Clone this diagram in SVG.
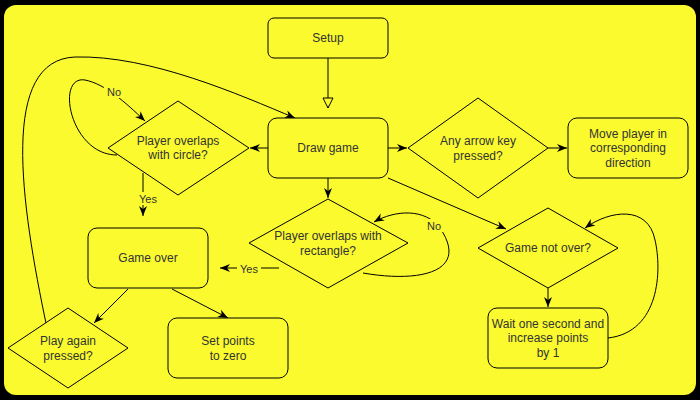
<svg xmlns="http://www.w3.org/2000/svg" width="700" height="400" viewBox="0 0 700 400">
<defs>
<style>
.n{fill:#FAFA2E;stroke:#000;stroke-width:1}
.t{font-family:"Liberation Sans",Arial,sans-serif;font-size:12px;fill:#333;text-anchor:middle}
.c{fill:none;stroke:#000;stroke-width:1}
.lb{font-family:"Liberation Sans",Arial,sans-serif;font-size:11px;fill:#333;text-anchor:middle}
</style>
<marker id="a" viewBox="0 0 10 10" refX="10" refY="5" markerWidth="10" markerHeight="10" markerUnits="userSpaceOnUse" orient="auto">
<path d="M0,1 L10,5 L0,9 L3,5 Z" fill="#000"/>
</marker>
<marker id="h" viewBox="0 0 12 12" refX="11" refY="6" markerWidth="12" markerHeight="12" markerUnits="userSpaceOnUse" orient="auto">
<path d="M1,1 L11,6 L1,11 Z" fill="#FAFA2E" stroke="#000" stroke-width="1"/>
</marker>
</defs>
<rect x="0" y="0" width="700" height="400" fill="#000"/>
<rect x="4" y="5" width="692" height="390" rx="12" fill="#FAFA2E"/>

<g id="connectors">
<path class="c" d="M328 58 V108" marker-end="url(#h)"/>
<path class="c" d="M268 148 H250" marker-end="url(#a)"/>
<path class="c" d="M117 155 C70 155,55 75,85 80 C105 84,125 102,145 121" marker-end="url(#a)"/>
<path class="c" d="M47 328 C20 200,0 60,75 57 C150 55,240 95,295 118" marker-end="url(#a)"/>
<path class="c" d="M143 173 V216" marker-end="url(#a)"/>
<path class="c" d="M328 178 V198" marker-end="url(#a)"/>
<path class="c" d="M279 268 H220" marker-end="url(#a)"/>
<path class="c" d="M363 273 C420 283,470 272,440 228 C425 208,395 210,374 222" marker-end="url(#a)"/>
<path class="c" d="M388 148 H407" marker-end="url(#a)"/>
<path class="c" d="M548 148 H567" marker-end="url(#a)"/>
<path class="c" d="M388 178 L506 229" marker-end="url(#a)"/>
<path class="c" d="M548 288 V307" marker-end="url(#a)"/>
<path class="c" d="M608 338 C660 332,662 270,655 240 C648 205,610 210,585 228" marker-end="url(#a)"/>
<path class="c" d="M128 289 L94 323" marker-end="url(#a)"/>
<path class="c" d="M172 289 L228 318" marker-end="url(#a)"/>
<rect x="104" y="85" width="18" height="13" fill="#FAFA2E"/>
<text class="lb" x="114" y="96">No</text>
<rect x="136" y="192" width="24" height="13" fill="#FAFA2E"/>
<text class="lb" x="148" y="203">Yes</text>
<rect x="237" y="262" width="24" height="13" fill="#FAFA2E"/>
<text class="lb" x="249" y="273">Yes</text>
<rect x="425" y="219" width="18" height="13" fill="#FAFA2E"/>
<text class="lb" x="434" y="230">No</text>
</g>

<g id="setup"><rect class="n" x="268" y="18" width="120" height="40" rx="6"/><text class="t" x="328" y="42">Setup</text></g>
<g id="draw-game"><rect class="n" x="268" y="118" width="120" height="60" rx="9"/><text class="t" x="328" y="152">Draw game</text></g>
<g id="circle-check"><polygon class="n" points="108,148 178,101 249,148 178,195"/><text class="t" x="178" y="145">Player overlaps</text><text class="t" x="178" y="159">with circle?</text></g>
<g id="game-over"><rect class="n" x="88" y="228" width="120" height="60" rx="9"/><text class="t" x="148" y="262">Game over</text></g>
<g id="rect-check"><polygon class="n" points="249,243 328,199 408,243 328,288"/><text class="t" x="328" y="240">Player overlaps with</text><text class="t" x="328" y="255">rectangle?</text></g>
<g id="arrow-key"><polygon class="n" points="408,148 478,98 548,148 478,198"/><text class="t" x="478" y="145">Any arrow key</text><text class="t" x="478" y="160">pressed?</text></g>
<g id="move-player"><rect class="n" x="568" y="118" width="120" height="60" rx="9"/><text class="t" x="628" y="138">Move player in</text><text class="t" x="628" y="152">corresponding</text><text class="t" x="628" y="167">direction</text></g>
<g id="game-not-over"><polygon class="n" points="478,248 548,208 618,248 548,288"/><text class="t" x="548" y="252">Game not over?</text></g>
<g id="wait"><rect class="n" x="488" y="308" width="120" height="60" rx="9"/><text class="t" x="548" y="328">Wait one second and</text><text class="t" x="548" y="342">increase points</text><text class="t" x="548" y="357">by 1</text></g>
<g id="play-again"><polygon class="n" points="8,348 68,308 128,348 68,388"/><text class="t" x="68" y="345">Play again</text><text class="t" x="68" y="360">pressed?</text></g>
<g id="set-points"><rect class="n" x="168" y="318" width="120" height="60" rx="9"/><text class="t" x="228" y="345">Set points</text><text class="t" x="228" y="360">to zero</text></g>
</svg>
